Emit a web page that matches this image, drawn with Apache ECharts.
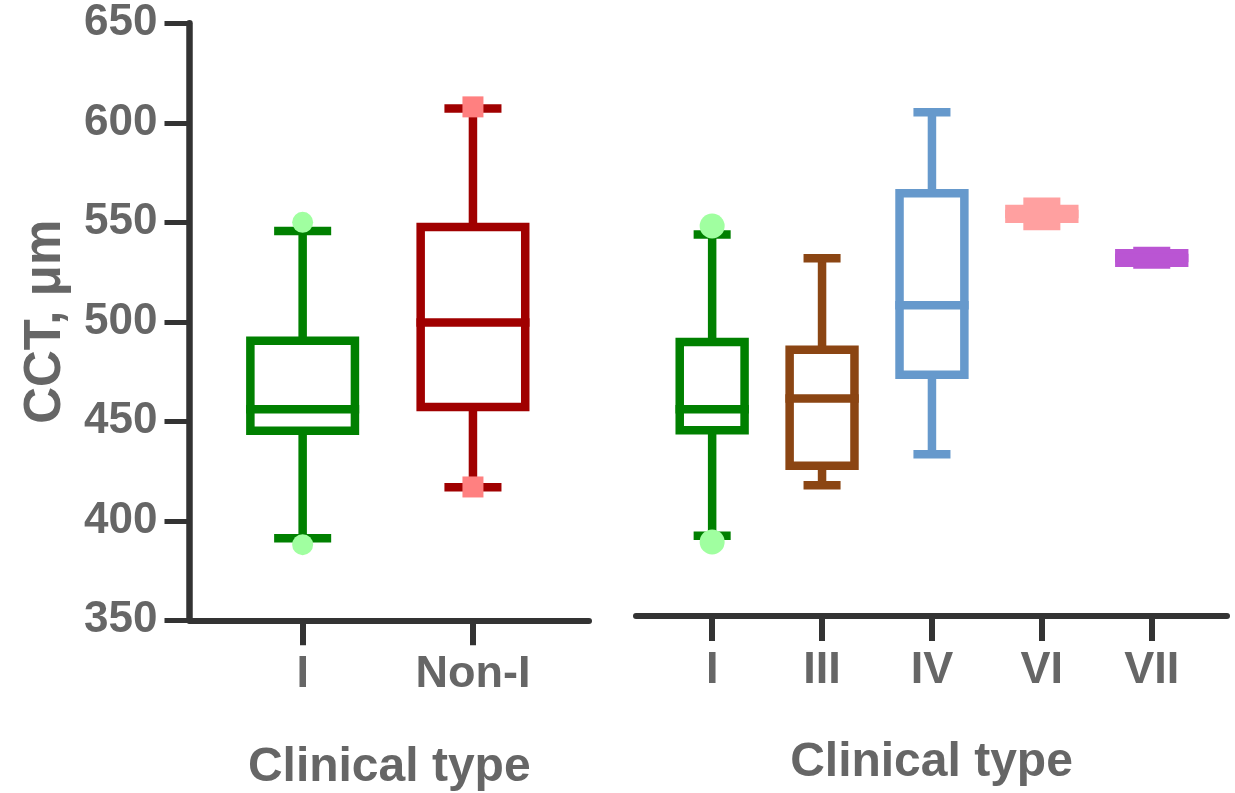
<!DOCTYPE html>
<html>
<head>
<meta charset="utf-8">
<script src="https://cdn.jsdelivr.net/npm/echarts@6/dist/echarts.min.js"></script>
<style>
  html, body { margin: 0; padding: 0; background: #fff; }
  #chart { width: 1235px; height: 793px; }
</style>
</head>
<body>
<div id="chart"></div>
<script>
// ---------------- DATA ----------------
const leftCategories = ['I', 'Non-I'];
const leftMin    = [391.2, 416.8];
const leftQ1     = [445.3, 457.2];
const leftMedian = [456.0, 499.7];
const leftQ3     = [490.5, 547.6];
const leftMax    = [545.6, 607.2];
const leftOutliersI    = [550, 388];   // group I (circles)
const leftOutliersNonI = [608, 417];   // Non-I (squares)

const rightCategories = ['I', 'III', 'IV', 'VI', 'VII'];
const rightMin    = [391.2, 417.0, 432.9, 550.0, 530.2];
const rightQ1     = [445.3, 427.0, 473.7, 553.7, 531.2];
const rightMedian = [456.0, 461.6, 509.3, 556.2, 533.6];
const rightQ3     = [490.5, 486.6, 566.8, 558.7, 536.0];
const rightMax    = [545.6, 533.4, 608.3, 562.5, 537.2];
const rightOutliersI = [550, 388];

const yTickMin = 350, yTickMax = 650, yTickStep = 50;

// ---------------- STYLE ----------------
const leftColors  = ['#008000', '#A00000'];
const rightColors = ['#008000', '#8B4513', '#6699CC', '#FFA0A0', '#BA55D3'];
const axisColor = '#333333';
const textColor = '#666666';
const FONT = '"Liberation Sans", Arial, sans-serif';

function rows(mins, q1s, meds, q3s, maxs) {
  return mins.map((m, i) => [i, m, q1s[i], meds[i], q3s[i], maxs[i]]);
}

function makeRender(boxRatio, capRatio, colors, lw) {
  return function (params, api) {
    const idx = api.value(0);
    const band = api.size([1, 0])[0];
    const cx = api.coord([idx, 0])[0];
    const y = v => api.coord([idx, v])[1];
    const yMin = y(api.value(1)), yQ1 = y(api.value(2)), yMed = y(api.value(3)),
          yQ3 = y(api.value(4)), yMax = y(api.value(5));
    const boxW = band * boxRatio, capW = band * capRatio;
    const c = colors[idx];
    const ls = { stroke: c, lineWidth: lw, lineCap: 'butt', fill: null };
    return {
      type: 'group',
      children: [
        { type: 'line', shape: { x1: cx, y1: yQ3, x2: cx, y2: yMax }, style: ls },
        { type: 'line', shape: { x1: cx, y1: yQ1, x2: cx, y2: yMin }, style: ls },
        { type: 'line', shape: { x1: cx - capW / 2, y1: yMax, x2: cx + capW / 2, y2: yMax }, style: ls },
        { type: 'line', shape: { x1: cx - capW / 2, y1: yMin, x2: cx + capW / 2, y2: yMin }, style: ls },
        { type: 'rect', shape: { x: cx - boxW / 2, y: yQ3, width: boxW, height: yQ1 - yQ3 },
          style: { stroke: c, lineWidth: lw, fill: null, lineJoin: 'miter' } },
        { type: 'line', shape: { x1: cx - (boxW + lw) / 2, y1: yMed, x2: cx + (boxW + lw) / 2, y2: yMed }, style: ls }
      ]
    };
  };
}

const chart = echarts.init(document.getElementById('chart'), null, { renderer: 'canvas' });

const hiddenY = (gi) => ({
  type: 'value', gridIndex: gi, min: yTickMin, max: yTickMax, interval: yTickStep,
  show: false, splitLine: { show: false }
});

const frameX = (gi) => ({
  type: 'value', gridIndex: gi, min: 0, max: 1,
  axisLine: { show: true, onZero: false, lineStyle: { color: axisColor, width: 6 } },
  axisTick: { show: false }, axisLabel: { show: false }, splitLine: { show: false },
  name: 'Clinical type', nameLocation: 'middle', nameGap: 123,
  nameTextStyle: { fontFamily: FONT, fontSize: 48, fontWeight: 'bold', color: textColor }
});

const catX = (gi, cats) => ({
  type: 'category', gridIndex: gi, data: cats, boundaryGap: true,
  axisLine: { show: false },
  axisTick: { show: true, alignWithLabel: true, length: 25, lineStyle: { color: axisColor, width: 6 } },
  axisLabel: { show: true, margin: 32, fontFamily: FONT, fontSize: 45, fontWeight: 'bold', color: textColor },
  splitLine: { show: false }
});

const option = {
  backgroundColor: '#ffffff',
  animation: false,
  grid: [
    { left: 189.5, top: 23.3, width: 399.5, height: 597, outerBoundsMode: 'none', containLabel: false },   // left frame
    { left: 217.5, top: 23.3, width: 340.6, height: 597, outerBoundsMode: 'none', containLabel: false },   // left data
    { left: 636,   top: 31,   width: 591,   height: 585, outerBoundsMode: 'none', containLabel: false },   // right frame
    { left: 657.2, top: 31,   width: 549.5, height: 585, outerBoundsMode: 'none', containLabel: false }    // right data
  ],
  xAxis: [
    frameX(0),
    catX(1, leftCategories),
    frameX(2),
    catX(3, rightCategories)
  ],
  yAxis: [
    {
      type: 'value', gridIndex: 0, min: yTickMin, max: yTickMax, interval: yTickStep,
      axisLine: { show: true, onZero: false, lineStyle: { color: axisColor, width: 6.5 } },
      axisTick: { show: true, length: 25, lineStyle: { color: axisColor, width: 5 } },
      axisLabel: { margin: 32, fontFamily: FONT, fontSize: 44, fontWeight: 'bold', color: textColor },
      splitLine: { show: false },
      name: 'CCT, μm', nameLocation: 'middle', nameGap: 118,
      nameTextStyle: { fontFamily: FONT, fontSize: 51, fontWeight: 'bold', color: textColor }
    },
    hiddenY(1),
    hiddenY(2),
    hiddenY(3)
  ],
  series: [
    {
      type: 'custom', xAxisIndex: 1, yAxisIndex: 1, clip: false,
      renderItem: makeRender(0.614, 0.335, leftColors, 8.5),
      encode: { x: 0, y: [1, 2, 3, 4, 5] },
      data: rows(leftMin, leftQ1, leftMedian, leftQ3, leftMax), z: 2
    },
    {
      type: 'custom', xAxisIndex: 3, yAxisIndex: 3, clip: false,
      renderItem: makeRender(0.59, 0.337, rightColors, 8.5),
      encode: { x: 0, y: [1, 2, 3, 4, 5] },
      data: rows(rightMin, rightQ1, rightMedian, rightQ3, rightMax), z: 2
    },
    {
      type: 'scatter', xAxisIndex: 1, yAxisIndex: 1, symbol: 'circle', symbolSize: 21,
      itemStyle: { color: '#A0FFA0', opacity: 1 }, z: 5,
      data: leftOutliersI.map(v => [leftCategories[0], v])
    },
    {
      type: 'scatter', xAxisIndex: 1, yAxisIndex: 1, symbol: 'rect', symbolSize: 21,
      itemStyle: { color: '#FF8080', opacity: 1 }, z: 5,
      data: leftOutliersNonI.map(v => [leftCategories[1], v])
    },
    {
      type: 'scatter', xAxisIndex: 3, yAxisIndex: 3, symbol: 'circle', symbolSize: 25,
      itemStyle: { color: '#A0FFA0', opacity: 1 }, z: 5,
      data: rightOutliersI.map(v => [rightCategories[0], v])
    }
  ]
};
chart.setOption(option);
</script>
</body>
</html>
